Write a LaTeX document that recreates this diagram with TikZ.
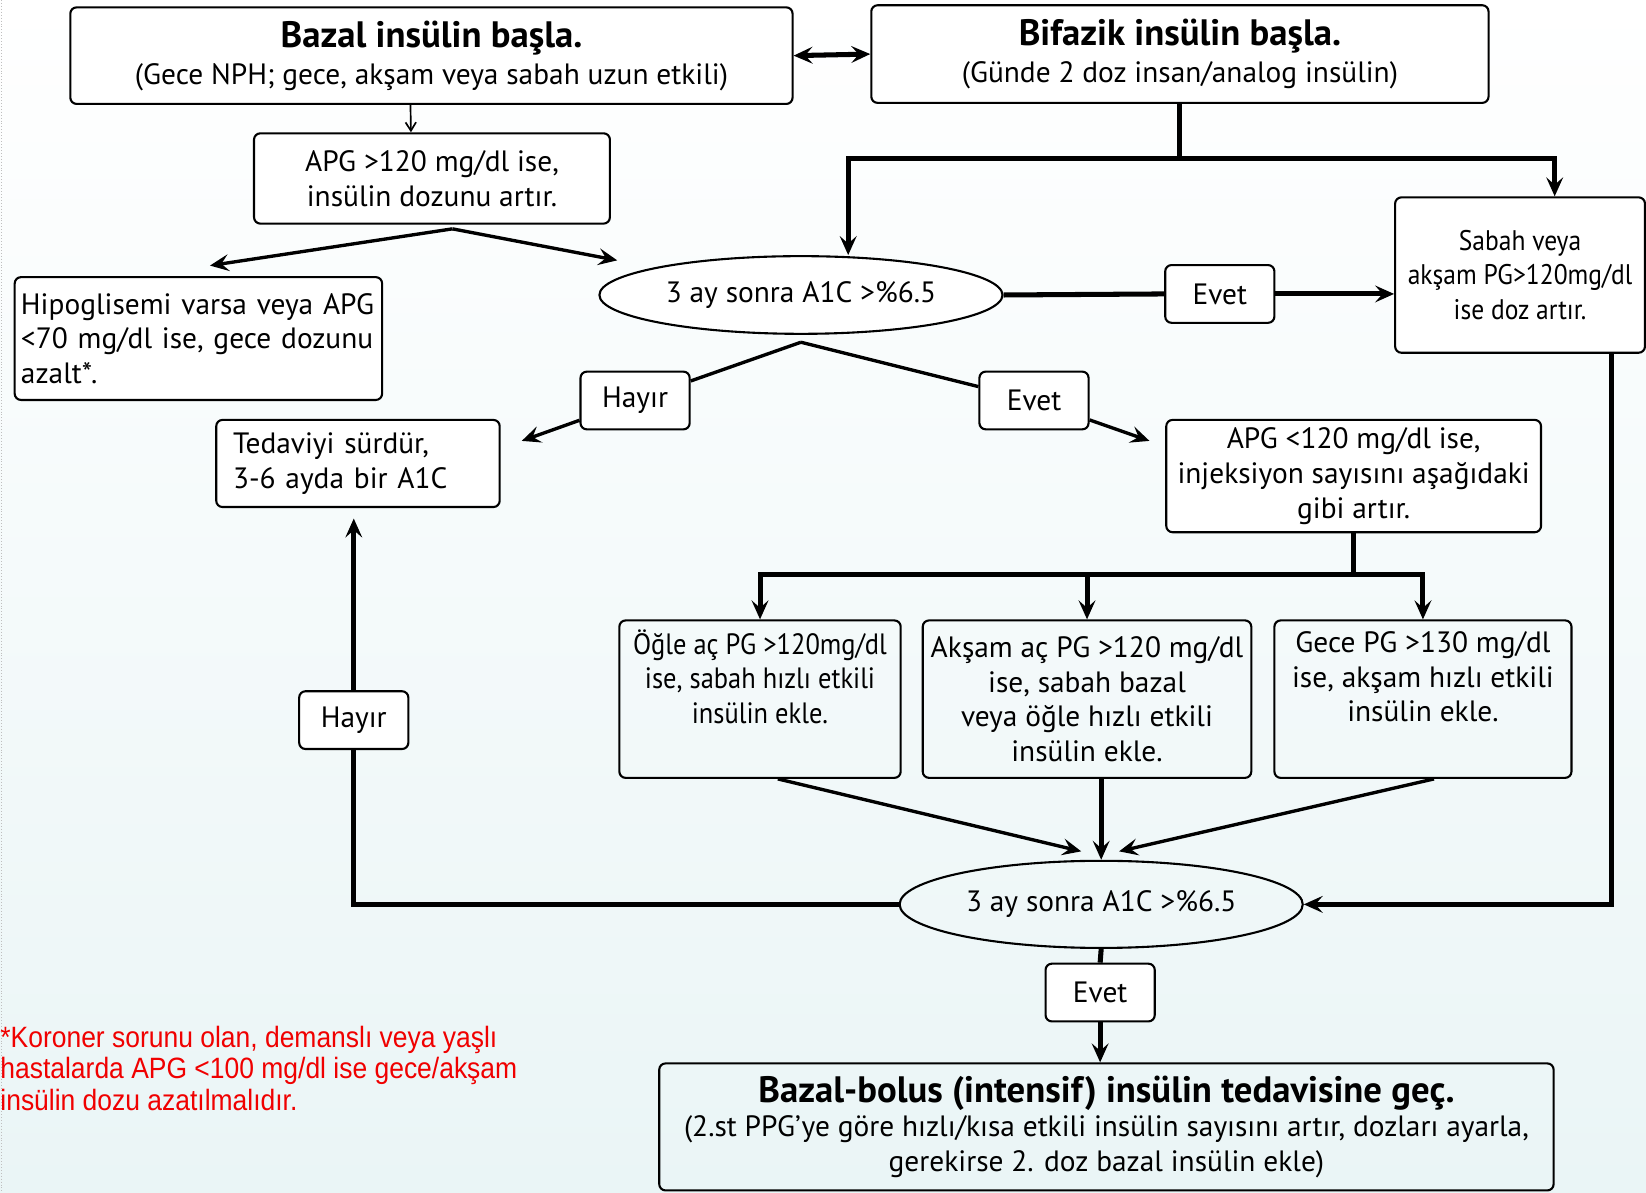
\documentclass[tikz,border=0pt]{standalone}
\usepackage{fontspec}
\setmainfont{PT Sans}
\newfontfamily\narrowfont[FakeStretch=0.9]{PT Sans}
\newfontfamily\notefont[FakeStretch=0.9]{Liberation Sans}
\usetikzlibrary{shapes.geometric,arrows.meta}
\definecolor{bgtint}{RGB}{234,245,246}
\definecolor{notered}{RGB}{240,0,0}

\begin{document}
\begin{tikzpicture}[x=0.5pt,y=-0.5pt,
  font=\fontsize{14}{16.5}\selectfont,
  box/.style={draw,line width=1pt,rounded corners=3pt,align=center,inner sep=2pt},
  lbl/.style={box,fill=white,minimum width=52pt,minimum height=27.5pt},
  ell/.style={draw,line width=1pt,ellipse,minimum width=192pt,inner sep=0pt},
  thk/.style={line width=2.4pt},
  med/.style={line width=1.6pt},
  arrowhd/.style={-{Stealth[length=9pt,width=8pt,inset=3.5pt]}}]
\shade[top color=white,bottom color=bgtint] (0,0) rectangle (1568,1136);
\useasboundingbox (0,0) rectangle (1568,1136);
\draw[black!25,densely dotted] (1,0) -- (1,1136);

\node[box,fill=white,minimum width=344pt,minimum height=46pt] (bazal) at (411,53)
  {{\fontsize{17.5}{19}\selectfont\bfseries Bazal insülin başla.}\\[1pt](Gece NPH; gece, akşam veya sabah uzun etkili)};
\node[box,fill=white,minimum width=294pt,minimum height=46.5pt] (bifazik) at (1124,51.5)
  {{\fontsize{17.5}{19}\selectfont\bfseries Bifazik insülin başla.}\\[1pt](Günde 2 doz insan/analog insülin)};
\node[box,fill=white,minimum width=169.5pt,minimum height=43pt] (apg1) at (411.5,170)
  {APG >120 mg/dl ise,\\ insülin dozunu artır.};
\node[box,fill=white,minimum width=174pt,minimum height=58.5pt,align=left,text width=169pt,inner xsep=3pt] (hipo) at (189,322.5)
  {Hipoglisemi varsa veya APG\\ <70 mg/dl ise, gece dozunu\\ azalt*.};
\node[ell,fill=white,minimum height=37pt] (ell1) at (763,281) {3 ay sonra A1C >\%6.5};
\node[lbl] (evet1) at (1162,280) {Evet};
\node[box,fill=white,minimum width=119pt,minimum height=74pt,font=\narrowfont\fontsize{13.5}{16.5}\selectfont] (sabah) at (1448,262)
  {Sabah veya\\ akşam PG>120mg/dl\\ ise doz artır.};
\node[lbl] (hayir1) at (605,381.5) {Hayır};
\node[lbl] (evet2) at (985,381.5) {Evet};
\node[box,fill=white,minimum width=135pt,minimum height=41.5pt,align=left,text width=119pt,inner xsep=8pt] (ted) at (341,441.5)
  {Tedaviyi sürdür,\\ 3-6 ayda bir A1C};
\node[box,fill=white,minimum width=178.5pt,minimum height=53.5pt] (apg2) at (1289.5,453.5)
  {APG <120 mg/dl ise,\\ injeksiyon sayısını aşağıdaki\\ gibi artır.};
\node[box,minimum width=134pt,minimum height=75pt,font=\narrowfont\fontsize{14}{16.5}\selectfont] (ogle) at (724,666)
  {Öğle aç PG >120mg/dl\\ ise, sabah hızlı etkili\\ insülin ekle.\\ \strut};
\node[box,minimum width=156.5pt,minimum height=75pt] (aksam) at (1035.5,666)
  {Akşam aç PG >120 mg/dl\\ ise, sabah bazal\\ veya öğle hızlı etkili\\ insülin ekle.};
\node[box,minimum width=141.5pt,minimum height=75pt] (gece) at (1355.5,666)
  {Gece PG >130 mg/dl\\ ise, akşam hızlı etkili\\ insülin ekle.\\ \strut};
\node[ell,minimum height=41.5pt] (ell2) at (1049,861.5) {3 ay sonra A1C >\%6.5};
\node[lbl] (hayir2) at (337,686) {Hayır};
\node[lbl] (evet3) at (1048,945.5) {Evet};
\node[box,minimum width=426pt,minimum height=60.5pt] (final) at (1054,1073.5)
  {{\fontsize{17.5}{19}\selectfont\bfseries Bazal-bolus (intensif) insülin tedavisine geç.}\\[0pt](2.st PPG’ye göre hızlı/kısa etkili insülin sayısını artır, dozları ayarla,\\ gerekirse 2. doz bazal insülin ekle)};
\node[anchor=north west,align=left,inner sep=0pt,text=notered,font=\notefont\fontsize{14}{15}\selectfont] (note) at (0,977)
  {*Koroner sorunu olan, demanslı veya yaşlı\\ hastalarda APG <100 mg/dl ise gece/akşam\\ insülin dozu azatılmalıdır.};

\coordinate (apx) at (431,218);
\coordinate (toHipo) at (200,253);
\coordinate (toEll) at (588,248);
\coordinate (bsplit) at (1125,151);
\coordinate (e1b) at ([yshift=-3.5pt]ell1.south);
\coordinate (toTed) at (497,420);
\coordinate (toApg) at (1095,420);
\coordinate (asplit) at (1289.5,547);

\draw[line width=0.8pt,-{Straight Barb[length=4pt,width=5pt]}] ([xshift=-10pt]bazal.south) -- ([xshift=-10pt]apg1.north);
\draw[thk,{Stealth[length=9pt,width=8pt,inset=3.5pt]}-{Stealth[length=9pt,width=8pt,inset=3.5pt]}] (bazal.east) -- (bifazik.west);
\draw[med,arrowhd] (apx) -- (toHipo);
\draw[med,arrowhd] (apx) -- (toEll);
\draw[thk] (bifazik.south |- bsplit) -- (bifazik.south);
\draw[thk,arrowhd] (bsplit) -| ([xshift=22.5pt]ell1.north);
\draw[thk,arrowhd] (bsplit) -| ([xshift=16.5pt]sabah.north);
\draw[thk] (ell1.east) -- (evet1.west);
\draw[thk,arrowhd] (evet1.east) -- (evet1.east -| sabah.west);
\draw[med] (e1b) -- (hayir1);
\draw[med] (e1b) -- (evet2);
\draw[med,arrowhd] (hayir1) -- (toTed);
\draw[med,arrowhd] (evet2) -- (toApg);
\draw[thk] (apg2.south) -- (asplit);
\draw[thk,arrowhd] (asplit) -| (ogle.north);
\draw[thk,arrowhd] (asplit) -| (gece.north);
\draw[thk,arrowhd] (aksam.north |- asplit) -- (aksam.north);
\draw[med,arrowhd] ([xshift=8.5pt]ogle.south) -- ([xshift=-9.5pt,yshift=4pt]ell2.north);
\draw[thk,arrowhd] ([xshift=6.75pt]aksam.south) -- (ell2.north);
\draw[med,arrowhd] ([xshift=5.25pt]gece.south) -- ([xshift=8.5pt,yshift=4pt]ell2.north);
\draw[thk,arrowhd] ([xshift=43.5pt]sabah.south) |- (ell2.east);
\draw[thk] (ell2.west) -| (hayir2.south);
\draw[thk,arrowhd,shorten >=5pt] (hayir2.north) -- (hayir2.north |- ted.south);
\draw[thk] (ell2.south) -- (evet3.north);
\draw[thk,arrowhd] (evet3.south) -- (evet3.south |- final.north);
\end{tikzpicture}
\end{document}
